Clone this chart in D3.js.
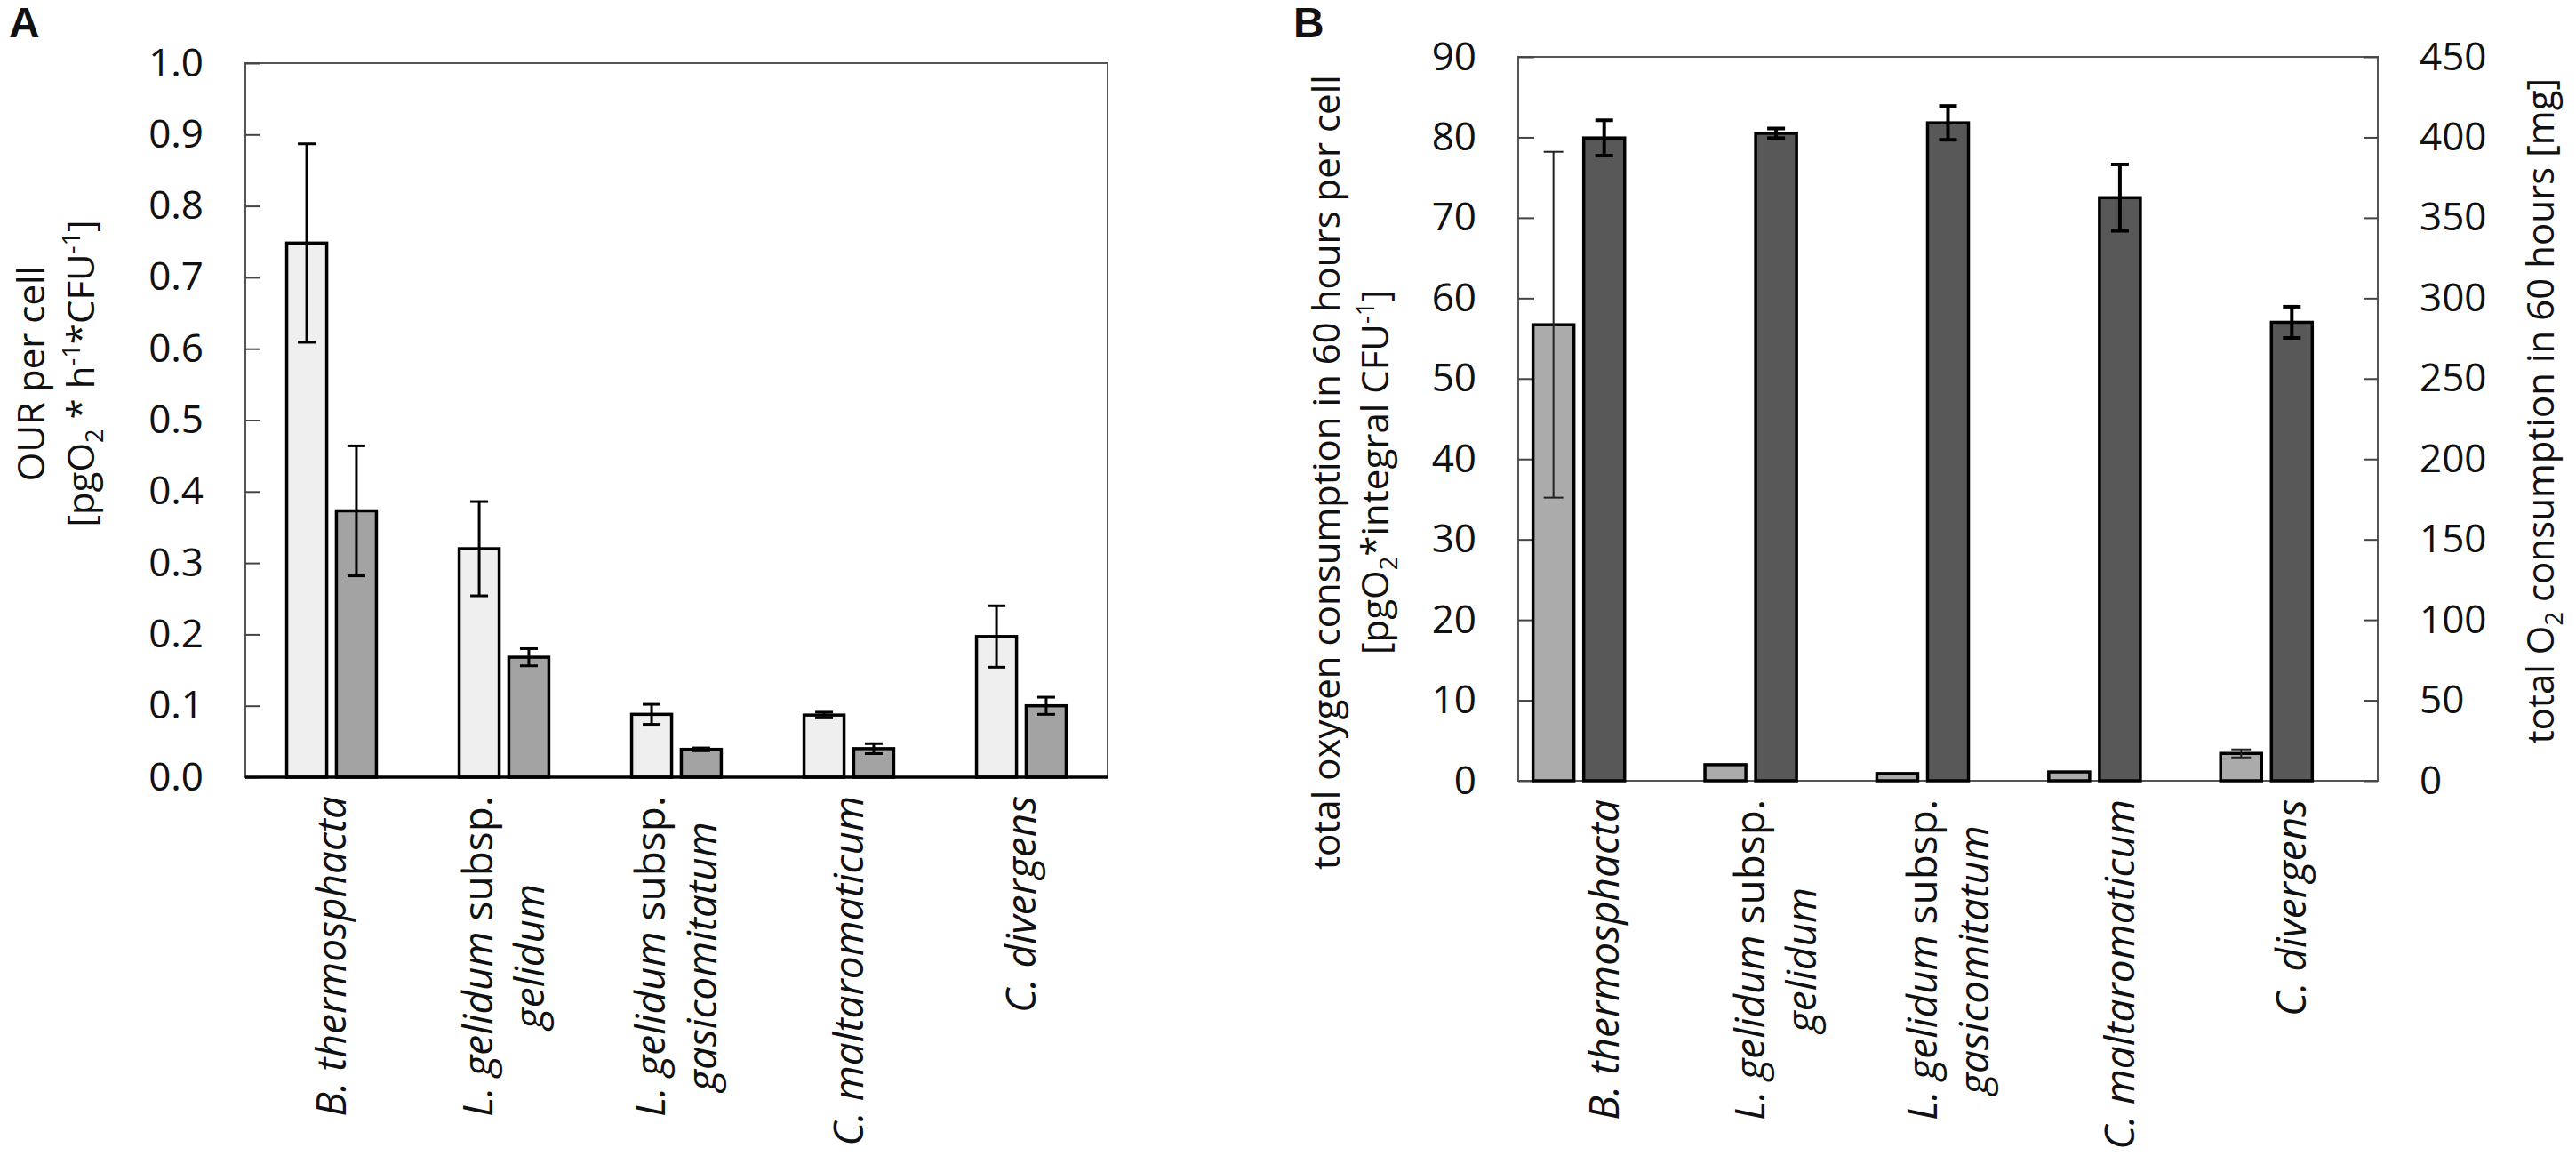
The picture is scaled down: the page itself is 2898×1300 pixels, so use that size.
<!DOCTYPE html>
<html>
<head>
<meta charset="utf-8">
<script src="https://cdn.jsdelivr.net/npm/d3@7"></script>
<style>
body { margin: 0; background: #fff; }
text { font-family: "Open Sans", "Noto Sans", sans-serif; fill: #111; }
</style>
</head>
<body>
<svg id="chart" width="2898" height="1300"></svg>
<script>
const categories = ['B. thermosphacta', 'L. gelidum subsp. gelidum', 'L. gelidum subsp. gasicomitatum', 'C. maltaromaticum', 'C. divergens'];
// rotated x labels, one array of [text, italic] pieces per line
const categoryLines = [
  [[['B. thermosphacta', true]]],
  [[['L. gelidum', true], [' subsp.', false]], [['gelidum', true]]],
  [[['L. gelidum', true], [' subsp.', false]], [['gasicomitatum', true]]],
  [[['C. maltaromaticum', true]]],
  [[['C. divergens', true]]]
];

// panel A - OUR per cell
const ourLight = [0.748, 0.320, 0.088, 0.087, 0.197];
const ourLightErr = [0.139, 0.066, 0.014, 0.004, 0.043];
const ourDark = [0.373, 0.168, 0.039, 0.040, 0.100];
const ourDarkErr = [0.091, 0.012, 0.002, 0.007, 0.012];
const ticksA = [0, 0.1, 0.2, 0.3, 0.4, 0.5, 0.6, 0.7, 0.8, 0.9, 1.0];

// panel B - per cell (left axis) and total O2 (right axis)
const perCell = [56.7, 2.0, 0.9, 1.1, 3.4];
const perCellErr = [21.5, 0, 0, 0, 0.5];
const totalO2 = [399.6, 402.5, 409.0, 362.5, 285.0];
const totalO2Err = [11.0, 3.0, 10.5, 20.6, 9.7];
const ticksBLeft = [0, 10, 20, 30, 40, 50, 60, 70, 80, 90];
const ticksBRight = [0, 50, 100, 150, 200, 250, 300, 350, 400, 450];

const FS = 42;
const svg = d3.select('#chart');
svg.append('rect').attr('width', 2898).attr('height', 1300).attr('fill', '#fff');

// writes pieces [text, style] into a text element, style: 'i', 'sub', 'sup' or ''
function rich(t, pieces) {
  let shift = 0;
  pieces.forEach(([txt, st]) => {
    const target = st === 'sub' ? 10 : st === 'sup' ? -16 : 0;
    const ts = t.append('tspan').text(txt).attr('dy', target - shift);
    if (st === 'i') ts.attr('font-style', 'italic');
    if (st === 'sub' || st === 'sup') ts.attr('font-size', FS * 0.65);
    shift = target;
  });
  return t;
}

function styleAxis(g, color) {
  g.attr('font-size', 44).attr('font-family', '"Open Sans", sans-serif').attr('color', '#111');
  g.selectAll('.domain').remove();
  g.selectAll('.tick line').attr('stroke', color).attr('stroke-width', 2);
}

function drawSeries(x, y, vals, errs, fill, width, off, err) {
  const bw = x.bandwidth() * width;
  const cx = (d, i) => x(categories[i]) + x.bandwidth() / 2 + x.bandwidth() * off;
  svg.append('g').selectAll('rect').data(vals).join('rect')
    .attr('x', (d, i) => cx(d, i) - bw / 2)
    .attr('y', d => y(d))
    .attr('width', bw)
    .attr('height', d => y(0) - y(d))
    .attr('fill', fill)
    .attr('stroke', '#000')
    .attr('stroke-width', 3.5);
  const eg = svg.append('g').attr('stroke', err.color).attr('stroke-width', err.w);
  vals.forEach((v, i) => {
    const e = errs[i];
    if (!e) return;
    const c = cx(v, i);
    eg.append('line').attr('x1', c).attr('x2', c).attr('y1', y(v + e)).attr('y2', y(v - e));
    [v + e, v - e].forEach(p => {
      eg.append('line').attr('x1', c - err.cap / 2).attr('x2', c + err.cap / 2).attr('y1', y(p)).attr('y2', y(p));
    });
  });
}

function drawLabels(x, yTop) {
  categoryLines.forEach((lines, i) => {
    const cx = x(categories[i]) + x.bandwidth() / 2;
    const g = svg.append('g');
    const texts = lines.map((ln, k) => {
      const lx = cx + (k - (lines.length - 1) / 2) * 58;
      const t = g.append('text').attr('font-size', 46).attr('text-anchor', 'middle')
        .attr('transform', `translate(${lx},0) rotate(-90)`);
      const inner = t.append('tspan').attr('dy', '0.35em');
      ln.forEach(([txt, it]) => {
        const ts = inner.append('tspan').text(txt).style('white-space', 'pre');
        if (it) ts.attr('font-style', 'italic');
      });
      return { t, lx };
    });
    const L = d3.max(texts, d => d.t.node().getComputedTextLength());
    texts.forEach(d => d.t.attr('transform', `translate(${d.lx},${yTop + L / 2}) rotate(-90)`));
  });
}

// ---------- panel A ----------
const xA = d3.scaleBand().domain(categories).range([276, 1246]);
const yA = d3.scaleLinear().domain([0, 1]).range([874, 71]);

svg.append('rect').attr('x', 276).attr('y', yA(1)).attr('width', 970).attr('height', yA(0) - yA(1))
  .attr('fill', 'none').attr('stroke', '#555').attr('stroke-width', 2);

const axA = svg.append('g').attr('transform', 'translate(276,0)')
  .call(d3.axisLeft(yA).tickValues(ticksA).tickFormat(d3.format('.1f')).tickSizeInner(-16).tickSizeOuter(0).tickPadding(47));
styleAxis(axA, '#444');

drawSeries(xA, yA, ourLight, ourLightErr, '#efefef', 0.232, -0.144, { color: '#000', w: 3, cap: 20 });
drawSeries(xA, yA, ourDark, ourDarkErr, '#a3a3a3', 0.232, 0.144, { color: '#000', w: 3, cap: 20 });

svg.append('line').attr('x1', 276).attr('x2', 1246).attr('y1', yA(0)).attr('y2', yA(0))
  .attr('stroke', '#000').attr('stroke-width', 3.5);

drawLabels(xA, 895);

const tA1 = svg.append('text').attr('font-size', FS).attr('text-anchor', 'middle')
  .attr('transform', 'translate(50,420) rotate(-90)');
rich(tA1, [['OUR per cell', '']]);
const tA2 = svg.append('text').attr('font-size', FS).attr('text-anchor', 'middle')
  .attr('transform', 'translate(106,420) rotate(-90)');
rich(tA2, [['[pgO', ''], ['2', 'sub'], [' * h', ''], ['-1', 'sup'], ['*CFU', ''], ['-1', 'sup'], [']', '']]);

svg.append('text').attr('x', 10).attr('y', 42).attr('font-size', 48).attr('font-weight', 'bold')
  .style('font-family', '"Liberation Sans", Arial, sans-serif').text('A');

// ---------- panel B ----------
const xB = d3.scaleBand().domain(categories).range([1708, 2675]);
const yBL = d3.scaleLinear().domain([0, 90]).range([878, 64]);
const yBR = d3.scaleLinear().domain([0, 450]).range([878, 64]);

svg.append('rect').attr('x', 1708).attr('y', yBL(90)).attr('width', 967).attr('height', yBL(0) - yBL(90))
  .attr('fill', 'none').attr('stroke', '#555').attr('stroke-width', 2);

const axBL = svg.append('g').attr('transform', 'translate(1708,0)')
  .call(d3.axisLeft(yBL).tickValues(ticksBLeft).tickFormat(d3.format('d')).tickSizeInner(-18).tickSizeOuter(0).tickPadding(47));
styleAxis(axBL, '#444');
const axBR = svg.append('g').attr('transform', 'translate(2675,0)')
  .call(d3.axisRight(yBR).tickValues(ticksBRight).tickFormat(d3.format('d')).tickSizeInner(-16).tickSizeOuter(0).tickPadding(47));
styleAxis(axBR, '#444');

drawSeries(xB, yBL, perCell, perCellErr, '#ababab', 0.238, -0.295, { color: '#222', w: 2, cap: 22 });
drawSeries(xB, yBR, totalO2, totalO2Err, '#585858', 0.238, 0, { color: '#000', w: 4, cap: 20 });

drawLabels(xB, 899);

const tB1 = svg.append('text').attr('font-size', FS).attr('text-anchor', 'middle')
  .attr('transform', 'translate(1507,531) rotate(-90)');
rich(tB1, [['total oxygen consumption in 60 hours per cell', '']]);
const tB2 = svg.append('text').attr('font-size', FS).attr('text-anchor', 'middle')
  .attr('transform', 'translate(1562,531) rotate(-90)');
rich(tB2, [['[pgO', ''], ['2', 'sub'], ['*integral CFU', ''], ['-1', 'sup'], [']', '']]);
const tB3 = svg.append('text').attr('font-size', FS).attr('text-anchor', 'middle')
  .attr('transform', 'translate(2873,462) rotate(-90)');
rich(tB3, [['total O', ''], ['2', 'sub'], [' consumption in 60 hours [mg]', '']]);

svg.append('text').attr('x', 1455).attr('y', 42).attr('font-size', 48).attr('font-weight', 'bold')
  .style('font-family', '"Liberation Sans", Arial, sans-serif').text('B');
</script>
</body>
</html>
